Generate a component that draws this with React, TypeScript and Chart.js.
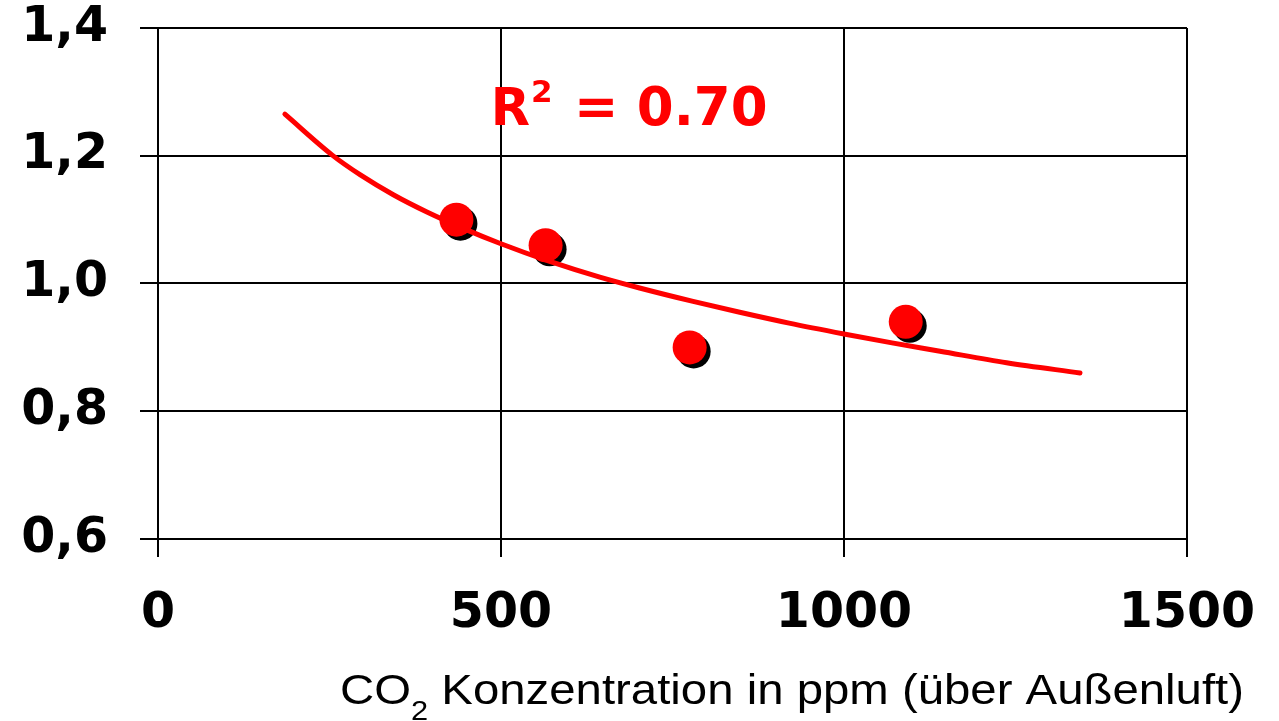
import React, { useEffect, useRef } from 'react';
import { Chart, registerables } from 'chart.js';

Chart.register(...registerables);

// Measured points (CO2 above outside air, ppm → relative value)
const co2Ppm = [435, 565, 775, 1090];
const relValue = [1.1, 1.06, 0.9, 0.94];

// Trend line
const trendPpm = [185, 254, 295, 343, 392, 450, 498, 570, 644, 702, 780, 848, 920, 1000, 1070, 1140, 1237, 1344];
const trendValue = [1.265, 1.201, 1.17, 1.139, 1.112, 1.084, 1.063, 1.035, 1.01, 0.993, 0.972, 0.955, 0.938, 0.921, 0.907, 0.894, 0.876, 0.86];

// Axes
const xTicks = [0, 500, 1000, 1500];
const xTickLabels = ['0', '500', '1000', '1500'];
const yTicks = [0.6, 0.8, 1.0, 1.2, 1.4];
const yTickLabels = ['0,6', '0,8', '1,0', '1,2', '1,4'];

// Texts
const r2Base = 'R';
const r2Sup = '2';
const r2Rest = ' = 0.70';
const r2AnchorPpm = 485;
const r2AnchorValue = 1.248;
const xTitleMain = 'CO';
const xTitleSub = '2';
const xTitleRest = ' Konzentration in ppm (über Außenluft)';

const RED = '#ff0000';
const TICK_FONT = { family: '"DejaVu Sans", Verdana, sans-serif', size: 49, weight: 'bold' as const, lineHeight: 1 };

const shadowPlugin = {
  id: 'pointShadow',
  beforeDatasetDraw(chart: any, args: any) {
    if (args.index === 1) {
      const ctx = chart.ctx;
      ctx.save();
      ctx.shadowColor = '#000';
      ctx.shadowOffsetX = 4;
      ctx.shadowOffsetY = 4;
      ctx.shadowBlur = 0;
    }
  },
  afterDatasetDraw(chart: any, args: any) {
    if (args.index === 1) chart.ctx.restore();
  },
};

const textPlugin = {
  id: 'texts',
  afterDraw(chart: any) {
    const ctx = chart.ctx as CanvasRenderingContext2D;
    const xs = chart.scales.x;
    const ys = chart.scales.y;
    // R² label
    ctx.save();
    ctx.fillStyle = RED;
    ctx.textBaseline = 'alphabetic';
    ctx.textAlign = 'left';
    let x = xs.getPixelForValue(r2AnchorPpm);
    const y = ys.getPixelForValue(r2AnchorValue);
    ctx.font = 'bold 51px "DejaVu Sans", Verdana, sans-serif';
    ctx.fillText(r2Base, x, y);
    x += ctx.measureText(r2Base).width + 1;
    ctx.font = 'bold 31px "DejaVu Sans", Verdana, sans-serif';
    ctx.fillText(r2Sup, x, y - 23);
    x += ctx.measureText(r2Sup).width + 3;
    ctx.font = 'bold 53px "DejaVu Sans", Verdana, sans-serif';
    ctx.fillText(r2Rest, x, y);
    ctx.restore();

    // X axis title with subscript
    ctx.save();
    ctx.fillStyle = '#000';
    ctx.textBaseline = 'alphabetic';
    ctx.textAlign = 'left';
    const mainFont = '43px "Liberation Sans", Arial, sans-serif';
    const subFont = '28px "Liberation Sans", Arial, sans-serif';
    ctx.font = mainFont;
    const wMain = ctx.measureText(xTitleMain).width;
    const wRest = ctx.measureText(xTitleRest).width;
    ctx.font = subFont;
    const wSub = ctx.measureText(xTitleSub).width;
    const total = wMain + wSub + wRest;
    const left = 340;
    const right = 1244;
    const sx = (right - left) / total;
    const base = 704;
    ctx.translate(left, base);
    ctx.scale(sx, 1);
    ctx.font = mainFont;
    ctx.fillText(xTitleMain, 0, 0);
    ctx.font = subFont;
    ctx.fillText(xTitleSub, wMain, 16);
    ctx.font = mainFont;
    ctx.fillText(xTitleRest, wMain + wSub, 0);
    ctx.restore();
  },
};

export default function App() {
  const ref = useRef<HTMLCanvasElement>(null);
  useEffect(() => {
    document.body.style.margin = '0';
    const chart = new Chart(ref.current as HTMLCanvasElement, {
      type: 'scatter',
      data: {
        datasets: [
          {
            type: 'line',
            data: trendPpm.map((v, i) => ({ x: v, y: trendValue[i] })),
            borderColor: RED,
            borderWidth: 5,
            pointRadius: 0,
            cubicInterpolationMode: 'monotone',
            borderCapStyle: 'round',
            fill: false,
          } as any,
          {
            type: 'scatter',
            data: co2Ppm.map((v, i) => ({ x: v, y: relValue[i] })),
            backgroundColor: RED,
            borderWidth: 0,
            pointRadius: 17,
            pointStyle: 'circle',
          } as any,
        ],
      },
      options: {
        animation: false,
        responsive: false,
        devicePixelRatio: 1,
        layout: { padding: { top: 28, right: 92, bottom: 0, left: 0 } },
        plugins: { legend: { display: false }, tooltip: { enabled: false } },
        scales: {
          x: {
            type: 'linear',
            min: 0,
            max: 1500,
            afterBuildTicks: (s: any) => { s.ticks = xTicks.map((v) => ({ value: v })); },
            afterFit: (s: any) => {
              s.height = 182;
              s.paddingLeft = 0;
              s.paddingRight = 0;
            },
            ticks: {
              callback: (_v: any, i: number) => xTickLabels[i],
              color: '#000',
              font: { ...TICK_FONT, lineHeight: 1.2 },
              padding: 28,
              maxRotation: 0,
            },
            grid: { color: '#000', lineWidth: 2, tickLength: 18, drawTicks: true },
            border: { display: true, color: '#000', width: 2 },
          },
          y: {
            type: 'linear',
            min: 0.6,
            max: 1.4,
            afterBuildTicks: (s: any) => { s.ticks = yTicks.map((v) => ({ value: v })); },
            afterFit: (s: any) => {
              s.width = 158;
              s.paddingTop = 0;
              s.paddingBottom = 0;
            },
            ticks: {
              callback: (_v: any, i: number) => yTickLabels[i],
              color: '#000',
              font: TICK_FONT,
              padding: 32,
            },
            grid: { color: '#000', lineWidth: 2, tickLength: 18, drawTicks: true },
            border: { display: true, color: '#000', width: 2 },
          },
        },
      },
      plugins: [shadowPlugin, textPlugin],
    });
    return () => chart.destroy();
  }, []);
  return (
    <div style={{ position: 'absolute', left: 0, top: 0, width: 1279, height: 721, background: '#fff' }}>
      <canvas ref={ref} width={1279} height={721} style={{ display: 'block', width: 1279, height: 721 }} />
    </div>
  );
}
